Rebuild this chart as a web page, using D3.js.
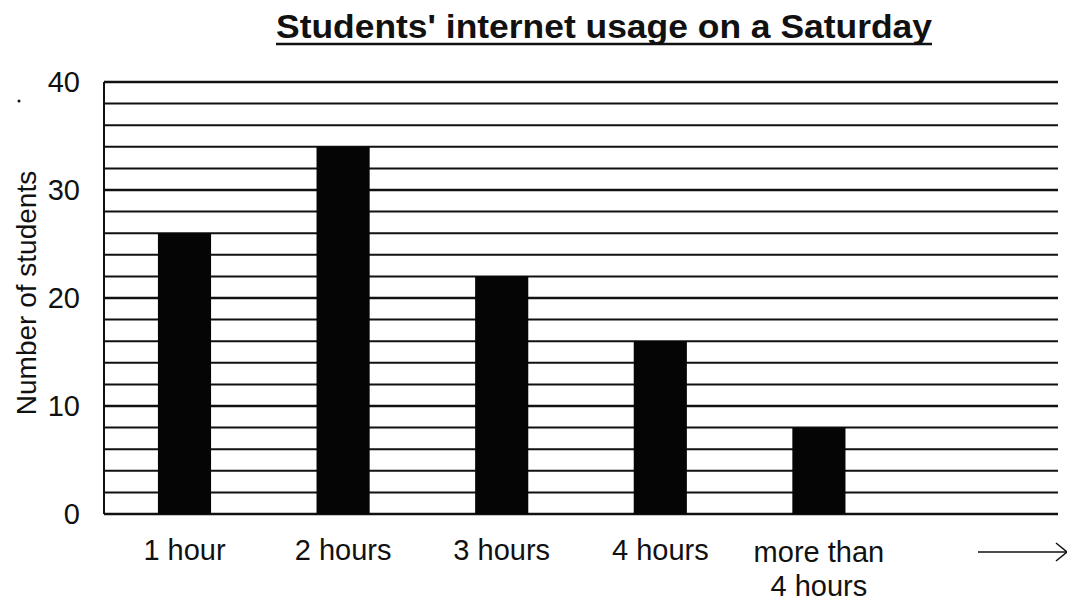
<!DOCTYPE html>
<html>
<head>
<meta charset="utf-8">
<script src="https://cdn.jsdelivr.net/npm/d3@7"></script>
<style>
  body { margin: 0; background: #fff; }
  text { font-family: "Liberation Sans", Arial, sans-serif; fill: #111; }
</style>
</head>
<body>
<div id="chart"></div>
<script>
// chart values
var categories = ["1 hour", "2 hours", "3 hours", "4 hours", "more than 4 hours", ""];
var students = [26, 34, 22, 16, 8, null];
var yTicks = [0, 10, 20, 30, 40];
var gridValues = d3.range(0, 42, 2);

var W = 1067, H = 602;
var margin = {top: 82, right: 10, bottom: 88, left: 104};
var width = W - margin.left - margin.right,
    height = H - margin.top - margin.bottom;

var svg = d3.select("#chart").append("svg")
    .attr("width", W)
    .attr("height", H);

var g = svg.append("g")
    .attr("transform", "translate(" + margin.left + "," + margin.top + ")");

var x = d3.scaleBand()
    .domain(categories.map(function(d, i) { return i; }))
    .range([0, width + 1])
    .paddingInner(0.665)
    .paddingOuter(0.34);

var y = d3.scaleLinear()
    .domain([0, 40])
    .range([height, 0]);

// horizontal grid lines every 2
g.selectAll(".grid")
    .data(gridValues)
    .enter().append("line")
    .attr("class", "grid")
    .attr("x1", 0)
    .attr("x2", width + 1)
    .attr("y1", function(d) { return y(d); })
    .attr("y2", function(d) { return y(d); })
    .attr("stroke", "#111")
    .attr("stroke-width", function(d) { return d % 10 == 0 ? 2.6 : 2; });

// left frame line
g.append("line")
    .attr("x1", 0).attr("x2", 0)
    .attr("y1", y(40)).attr("y2", y(0))
    .attr("stroke", "#111")
    .attr("stroke-width", 2);

// bars
g.selectAll(".bar")
    .data(students.map(function(v, i) { return {i: i, v: v}; }).filter(function(d) { return d.v != null; }))
    .enter().append("rect")
    .attr("class", "bar")
    .attr("x", function(d) { return x(d.i); })
    .attr("width", x.bandwidth())
    .attr("y", function(d) { return y(d.v); })
    .attr("height", function(d) { return height - y(d.v); })
    .attr("fill", "#050505");

// y axis labels
var yAxis = g.append("g")
    .attr("transform", "translate(-24,0)")
    .call(d3.axisLeft(y).tickValues(yTicks).tickSize(0).tickPadding(0));
yAxis.select(".domain").remove();
yAxis.selectAll("text")
    .attr("font-size", 29)
    .attr("font-family", "Liberation Sans, Arial, sans-serif")
    .attr("fill", "#111");

// x axis labels
var xAxis = g.append("g")
    .attr("transform", "translate(0," + height + ")")
    .call(d3.axisBottom(x).tickSize(0).tickPadding(25).tickFormat(function(d) { return categories[d]; }));
xAxis.select(".domain").remove();
xAxis.selectAll("text")
    .attr("font-size", 29)
    .attr("font-family", "Liberation Sans, Arial, sans-serif")
    .attr("fill", "#111")
    .each(function(d) {
        var label = categories[d];
        if (label == "more than 4 hours") {
            var t = d3.select(this).text(null);
            t.append("tspan").attr("x", 0).attr("dy", "0.78em").text("more than");
            t.append("tspan").attr("x", 0).attr("dy", "1.2em").text("4 hours");
            t.attr("dy", null);
        }
    });

// arrow after the last category
var arrowY = height + 38;
g.append("line")
    .attr("x1", 874)
    .attr("x2", width + 10)
    .attr("y1", arrowY).attr("y2", arrowY)
    .attr("stroke", "#111").attr("stroke-width", 1.5);
g.append("path")
    .attr("d", "M" + (width - 1) + "," + (arrowY - 9) + "L" + (width + 10) + "," + arrowY + "L" + (width - 1) + "," + (arrowY + 9))
    .attr("fill", "none")
    .attr("stroke", "#111").attr("stroke-width", 1.5);

// y axis title
svg.append("text")
    .attr("transform", "translate(36," + (margin.top + 211) + ") rotate(-90)")
    .attr("text-anchor", "middle")
    .attr("font-size", 28)
    .text("Number of students");

// chart title, bold and underlined
svg.append("text")
    .attr("x", 604)
    .attr("y", 38)
    .attr("text-anchor", "middle")
    .attr("font-size", 34)
    .attr("font-weight", "bold")
    .attr("font-family", "Liberation Sans Narrow, Liberation Sans, Arial, sans-serif")
    .attr("textLength", 656)
    .attr("lengthAdjust", "spacingAndGlyphs")
    .text("Students' internet usage on a Saturday");

svg.append("line")
    .attr("x1", 276).attr("x2", 932)
    .attr("y1", 44).attr("y2", 44)
    .attr("stroke", "#111").attr("stroke-width", 2.5);

// small stray dot near the axis label
svg.append("circle")
    .attr("cx", 19).attr("cy", 101).attr("r", 1.5).attr("fill", "#111");
</script>
</body>
</html>
